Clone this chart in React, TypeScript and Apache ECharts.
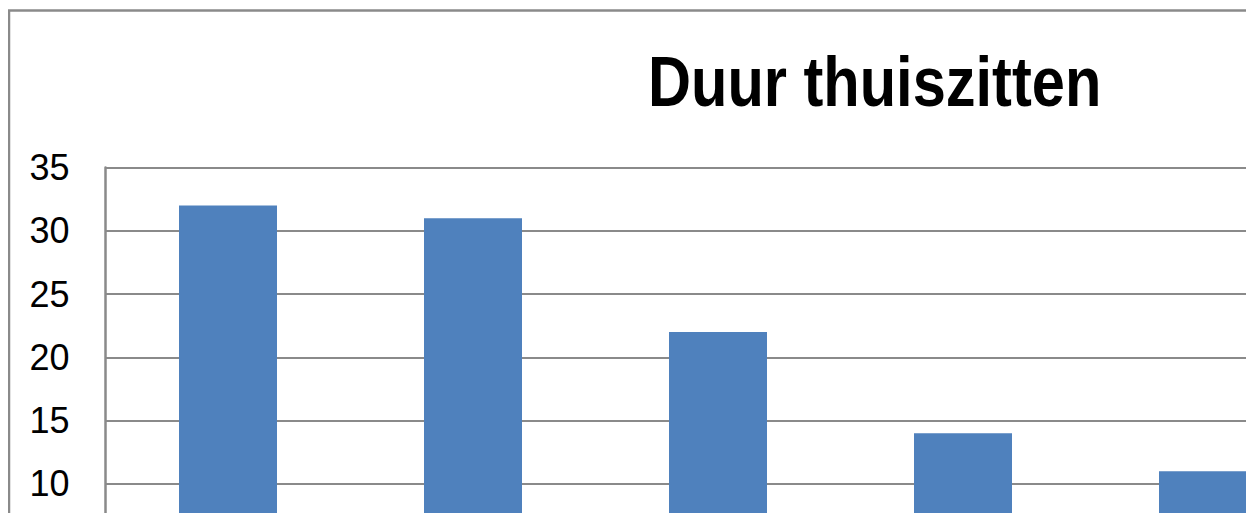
import React, { useEffect, useRef } from "react";
import * as echarts from "echarts";

const categories = ["cat1", "cat2", "cat3", "cat4", "cat5"];
const values = [32, 31, 22, 14, 11];
const yTicks = [0, 5, 10, 15, 20, 25, 30, 35];
const visibleFrom = 10;
const titleText = "Duur thuiszitten";

const FONT = '"Liberation Sans", Arial, sans-serif';

export default function App() {
  const ref = useRef<HTMLDivElement>(null);
  useEffect(() => {
    if (!ref.current) return;
    const chart = echarts.init(ref.current, undefined, { renderer: "svg" });
    chart.setOption({
      animation: false,
      backgroundColor: "#ffffff",
      graphic: [
        {
          type: "rect",
          shape: { x: 1, y: 2.5, width: 1500, height: 900 },
          style: { fill: "none", stroke: "#8a8a8a", lineWidth: 2.5 },
          silent: true,
        },
        {
          type: "text",
          x: 640,
          y: 39,
          scaleX: 0.851,
          style: {
            text: titleText,
            fontFamily: FONT,
            fontWeight: "bold",
            fontSize: 70,
            fill: "#000000",
            textAlign: "left",
            textVerticalAlign: "top",
          },
          silent: true,
        },
      ],
      grid: { left: 97.5, top: 159.5, width: 1225, height: 443, containLabel: false },
      xAxis: {
        type: "category",
        data: categories,
        axisLine: { show: true, lineStyle: { color: "#8a8a8a", width: 2 } },
        axisTick: { show: false },
        axisLabel: { show: false },
      },
      yAxis: {
        type: "value",
        min: yTicks[0],
        max: yTicks[yTicks.length - 1],
        interval: 5,
        axisLine: { show: true, lineStyle: { color: "#8a8a8a", width: 2.5 } },
        axisTick: { show: false },
        splitLine: { show: true, lineStyle: { color: "#8a8a8a", width: 2 } },
        axisLabel: {
          margin: 36,
          fontFamily: FONT,
          fontSize: 36,
          color: "#000000",
          formatter: (v: number) => (v >= visibleFrom ? String(v) : ""),
        },
      },
      series: [
        {
          type: "bar",
          data: values,
          barWidth: "40%",
          itemStyle: { color: "#4f81bd" },
        },
      ],
    });
    return () => chart.dispose();
  }, []);
  return (
    <div style={{ width: 1246, height: 505, overflow: "hidden", position: "relative" }}>
      <div ref={ref} style={{ width: 1500, height: 700 }} />
    </div>
  );
}
